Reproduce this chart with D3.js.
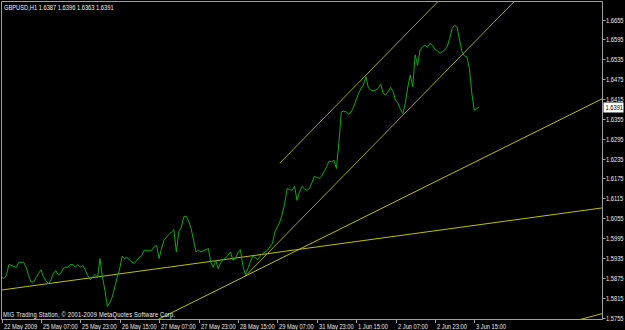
<!DOCTYPE html>
<html><head><meta charset="utf-8">
<script src="https://cdn.jsdelivr.net/npm/d3@7"></script>
<style>html,body{margin:0;padding:0;background:#000;overflow:hidden}</style>
</head><body><svg id="c" width="625" height="330"></svg>
<script>
const symbol = "GBPUSD,H1";
const lastOHLC = [1.6387, 1.6396, 1.6363, 1.6391];
const copyright = "MIG Trading Station, \u00A9 2001-2009 MetaQuotes Software Corp.";

const barIndex = [0,1,2,3,5,6,7,9,10,11,12,13,14,15,16,17,18,19,20,21,22,23,24,25,26,27,28,29,30,31,32,33,34,35,36,37,38,39,40,41,42,43,44,45,46,47,48,49,50,51,53,54,55,57,58,60,61,62,63,64,65,66,67,69,70,71,72,73,74,75,76,77,78,79,80,81,83,84,85,86,87,88,89,90,91,92,93,94,95,96,97,98,99,100,101,102,103,104,105,106,108,109,110,111,112,113,114,115,116,117,118,119,120,121,122,123,124,125,126,127,128,129,130,131,132,133,134,135,136,137,138,139,140,141,142,143,144,145,146,147,148,149,150,151,152,153,154,155,156,157,158,159,160,161,162,163,164,165,166,167,168,169,170,171,172,173,174,175,176,177,178,179,180,181,182,183,184,185,186,187,188,189,190,191,192,193,194];
const closes = [1.5877,1.5873,1.5882,1.5915,1.5909,1.5906,1.5922,1.5922,1.5907,1.5882,1.5862,1.5862,1.5875,1.5887,1.5899,1.5879,1.5867,1.5857,1.5867,1.5887,1.5897,1.5885,1.5887,1.5902,1.5907,1.5907,1.5915,1.5915,1.5907,1.5915,1.5907,1.5912,1.5899,1.5882,1.5869,1.5877,1.5885,1.5875,1.5933,1.5877,1.5837,1.5788,1.5801,1.5817,1.5847,1.5877,1.5902,1.5940,1.5933,1.5936,1.5922,1.5919,1.5928,1.5943,1.5958,1.5956,1.5958,1.5968,1.5973,1.5933,1.5964,1.5988,1.5998,1.6013,1.6020,1.5953,1.6015,1.6027,1.6059,1.6061,1.6046,1.6024,1.5988,1.5953,1.5958,1.5953,1.5960,1.5963,1.5922,1.5907,1.5928,1.5902,1.5921,1.5928,1.5936,1.5943,1.5953,1.5928,1.5933,1.5950,1.5960,1.5912,1.5885,1.5902,1.5922,1.5940,1.5936,1.5930,1.5940,1.5948,1.5958,1.5968,1.5978,1.6013,1.6028,1.6043,1.6067,1.6099,1.6144,1.6142,1.6139,1.6151,1.6109,1.6133,1.6151,1.6144,1.6139,1.6144,1.6161,1.6181,1.6178,1.6175,1.6182,1.6195,1.6210,1.6227,1.6225,1.6230,1.6205,1.6281,1.6376,1.6378,1.6376,1.6369,1.6376,1.6391,1.6412,1.6432,1.6447,1.6457,1.6482,1.6448,1.6442,1.6440,1.6442,1.6447,1.6460,1.6432,1.6427,1.6437,1.6450,1.6437,1.6412,1.6402,1.6384,1.6371,1.6402,1.6451,1.6487,1.6452,1.6548,1.6517,1.6563,1.6573,1.6578,1.6571,1.6583,1.6578,1.6565,1.6561,1.6553,1.6558,1.6563,1.6573,1.6598,1.6628,1.6638,1.6632,1.6593,1.6558,1.6545,1.6542,1.6507,1.6432,1.6381,1.6386,1.6391];

const xTickBars = [0,16,32,48,64,80,96,112,128,144,160,176,192];
const xTickLabels = ["22 May 2009","25 May 07:00","25 May 23:00","26 May 15:00","27 May 07:00","27 May 23:00","28 May 15:00","29 May 07:00","31 May 23:00","1 Jun 15:00","2 Jun 07:00","2 Jun 23:00","3 Jun 15:00"];
const yTickValues = [1.5755,1.5815,1.5875,1.5935,1.5995,1.6055,1.6115,1.6175,1.6235,1.6295,1.6355,1.6415,1.6475,1.6535,1.6595,1.6655];

// trend lines: two anchors each (bar, price)
const lineBar1   = [0,      99,     99,     113,    238];
const linePrice1 = [1.5838, 1.5880, 1.5880, 1.6221, 1.5755];
const lineBar2   = [121,    194,    163,    148,    244];
const linePrice2 = [1.5961, 1.6231, 1.6366, 1.6487, 1.5767];
const lineBothWays = [true, true, false, false, true];

const svg = d3.select("#c");
const W = 625, H = 330;
const plot = {left: 1.5, top: 1.5, right: 602.5, bottom: 319.5};
const barW = 2.4625;

const x = d3.scaleLinear().domain([0, 192]).range([1.5, 1.5 + 192 * barW]);
const y = d3.scaleLinear().domain([1.5755, 1.6655]).range([317.5, 19.5]);

svg.append("rect").attr("width", W).attr("height", H).attr("fill", "#000");

svg.append("defs").append("clipPath").attr("id", "pc")
  .append("rect").attr("x", plot.left + 0.5).attr("y", plot.top + 0.5)
  .attr("width", plot.right - plot.left - 1).attr("height", plot.bottom - plot.top - 1);

const g = svg.append("g").attr("clip-path", "url(#pc)");

// trend lines
const lineColors = ["#bebe00", "#bebe00", "#a4a400", "#a4a400", "#bebe00"];
const xMaxBar = x.invert(plot.right + 5);
const xMinBar = x.invert(plot.left - 5);
lineBar1.forEach((b1, k) => {
  const b2 = lineBar2[k], p1 = linePrice1[k], p2 = linePrice2[k];
  const slope = (p2 - p1) / (b2 - b1);
  const startBar = lineBothWays[k] ? xMinBar - 200 : b1;
  const endBar = xMaxBar;
  g.append("line")
    .attr("x1", x(startBar)).attr("y1", y(p1 + slope * (startBar - b1)))
    .attr("x2", x(endBar)).attr("y2", y(p1 + slope * (endBar - b1)))
    .attr("stroke", lineColors[k]).attr("stroke-width", 1);
});

// price line
const pts = barIndex.map((b, i) => [b, closes[i]]);
g.append("path")
  .attr("d", d3.line().x(d => x(d[0])).y(d => y(d[1]))(pts))
  .attr("fill", "none").attr("stroke", "#0cac0c").attr("stroke-width", 1)
  .attr("stroke-linejoin", "round");

// frame
const frameColor = "#a0a0a0";
svg.append("path")
  .attr("d", `M${plot.left},${plot.bottom}V${plot.top}H${plot.right}V${plot.bottom}H${plot.left}`)
  .attr("fill", "none").attr("stroke", frameColor).attr("stroke-width", 1);

const font = "'Liberation Sans', Arial, sans-serif";
const fs = 7;
const squeeze = 0.82;
function label(parent, tx, ty, str, fill) {
  return parent.append("text")
    .attr("transform", `translate(${tx},${ty}) scale(${squeeze},1)`)
    .attr("fill", fill).attr("font-family", font).attr("font-size", fs)
    .text(str);
}

// y axis
const yAxis = svg.append("g");
yTickValues.forEach(v => {
  const yy = Math.round(y(v)) + 0.5;
  yAxis.append("line").attr("x1", plot.right).attr("x2", plot.right + 3)
    .attr("y1", yy).attr("y2", yy).attr("stroke", frameColor);
  label(yAxis, 606, yy + 2.5, d3.format(".4f")(v), "#e8e8e8");
});

// current price box
const lastY = y(lastOHLC[3]);
svg.append("rect").attr("x", 603.5).attr("y", Math.round(lastY) - 4.5)
  .attr("width", 20).attr("height", 10).attr("fill", "#fff");
label(svg, 605.5, Math.round(lastY) + 3, d3.format(".4f")(lastOHLC[3]), "#000");

// x axis
const xAxis = svg.append("g");
xTickBars.forEach((b, i) => {
  const xx = Math.round(x(b)) + 0.5;
  xAxis.append("line").attr("x1", xx).attr("x2", xx)
    .attr("y1", plot.bottom).attr("y2", plot.bottom + 3.5).attr("stroke", frameColor);
  label(xAxis, xx + 1.5, 328.5, xTickLabels[i], "#e8e8e8");
});

// title
label(svg, 4, 9.5, symbol + "  " + lastOHLC.map(d3.format(".4f")).join(" "), "#f0f0f0");

// copyright
label(svg, 3, 316.5, copyright, "#f0f0f0")
  .attr("textLength", 172 / squeeze).attr("lengthAdjust", "spacing");
</script>
</body></html>
